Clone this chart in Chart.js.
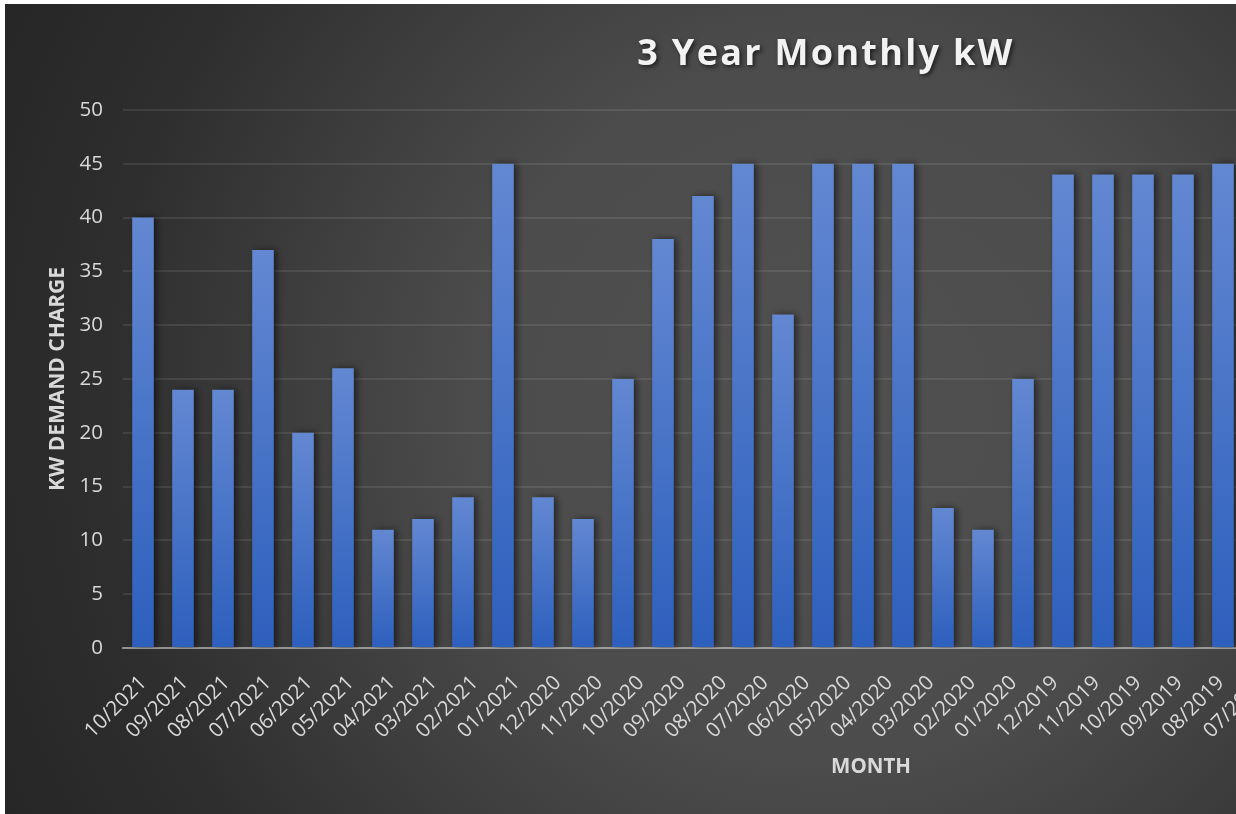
<!DOCTYPE html>
<html>
<head>
<meta charset="utf-8">
<script src="https://cdn.jsdelivr.net/npm/chart.js@4/dist/chart.umd.min.js"></script>
<style>
  html, body { margin: 0; padding: 0; background: #ffffff; overflow: hidden; width: 1236px; height: 814px; }
  #wrap { position: absolute; left: 5px; top: 4px; width: 1250px; height: 810px; }
</style>
</head>
<body>
<div id="wrap"><canvas id="c"></canvas></div>
<script>
const months = ["10/2021","09/2021","08/2021","07/2021","06/2021","05/2021","04/2021","03/2021","02/2021","01/2021",
  "12/2020","11/2020","10/2020","09/2020","08/2020","07/2020","06/2020","05/2020","04/2020","03/2020","02/2020","01/2020",
  "12/2019","11/2019","10/2019","09/2019","08/2019","07/2019"];
const kwValues = [40,24,24,37,20,26,11,12,14,45,14,12,25,38,42,45,31,45,45,45,13,11,25,44,44,44,44,45];
const yTicks = [0,5,10,15,20,25,30,35,40,45,50];
const chartTitle = "3 Year Monthly kW";
const xTitle = "MONTH";
const yTitle = "KW DEMAND CHARGE";

const bgPlugin = {
  id: 'bg',
  beforeDraw(chart) {
    const ctx = chart.ctx, w = chart.width, h = chart.height;
    const g = ctx.createRadialGradient(822, 405, 0, 822, 405, 920);
    g.addColorStop(0, '#505050');
    g.addColorStop(0.38, '#4c4c4c');
    g.addColorStop(0.59, '#3d3d3d');
    g.addColorStop(0.79, '#2e2e2e');
    g.addColorStop(1, '#262626');
    ctx.save();
    ctx.fillStyle = g;
    ctx.fillRect(0, 0, w, h);
    ctx.restore();
  }
};

const shadowPlugin = {
  id: 'barShadow',
  beforeDatasetsDraw(chart) {
    const ctx = chart.ctx;
    ctx.save();
    ctx.shadowColor = 'rgba(0,0,0,0.55)';
    ctx.shadowBlur = 7;
    ctx.shadowOffsetX = 3;
    ctx.shadowOffsetY = 0;
  },
  afterDatasetsDraw(chart) {
    chart.ctx.restore();
  }
};

const textPlugin = {
  id: 'texts',
  afterDraw(chart) {
    const ctx = chart.ctx;
    ctx.save();
    ctx.font = 'bold 36px "Open Sans"';
    try { ctx.letterSpacing = '2.3px'; } catch (e) {}
    ctx.textAlign = 'center';
    ctx.textBaseline = 'alphabetic';
    ctx.fillStyle = '#f2f2f2';
    ctx.shadowColor = 'rgba(0,0,0,0.6)';
    ctx.shadowBlur = 4;
    ctx.shadowOffsetX = 2;
    ctx.shadowOffsetY = 2;
    ctx.fillText(chartTitle, 821, 61);
    ctx.restore();

    ctx.save();
    ctx.font = 'bold 20.5px "Open Sans"';
    ctx.textAlign = 'center';
    ctx.textBaseline = 'middle';
    ctx.fillStyle = '#d9d9d9';
    ctx.fillText(xTitle, 866, 763);
    ctx.restore();
  }
};

new Chart(document.getElementById('c'), {
  type: 'bar',
  data: {
    labels: months,
    datasets: [{
      label: 'kW',
      data: kwValues,
      xAxisID: 'x',
      backgroundColor: (c) => {
        const chart = c.chart;
        if (!chart.chartArea || c.type !== 'data') return '#4472c4';
        const y = chart.scales.y;
        const top = y.getPixelForValue(c.raw), bot = y.getPixelForValue(0);
        const g = chart.ctx.createLinearGradient(0, top, 0, bot);
        g.addColorStop(0, '#6388d2');
        g.addColorStop(1, '#2d5fbd');
        return g;
      },
      borderWidth: 0,
      categoryPercentage: 1,
      barPercentage: 0.54
    }]
  },
  options: {
    responsive: true,
    maintainAspectRatio: false,
    animation: false,
    layout: { padding: { top: 106, right: 12, bottom: 0, left: 0 } },
    plugins: {
      legend: { display: false },
      title: { display: false },
      tooltip: { enabled: false }
    },
    scales: {
      x: {
        type: 'category',
        position: 'bottom',
        z: 1,
        weight: 0,
        afterFit(s) { s.height = 0; s.paddingLeft = 0; s.paddingRight = 0; },
        grid: { display: false, drawTicks: false },
        border: { display: true, color: 'rgba(200,200,200,0.6)', width: 2 },
        ticks: { display: false }
      },
      xl: {
        type: 'linear',
        position: 'bottom',
        offset: false,
        weight: 1,
        min: -0.4947,
        max: 26.532,
        afterBuildTicks(s) { s.ticks = months.map((m, i) => ({ value: i })); },
        afterFit(s) { s.height = 166; s.paddingLeft = 0; s.paddingRight = 0; },
        grid: { display: false, drawTicks: false, offset: false },
        border: { display: false },
        ticks: {
          autoSkip: false, maxRotation: 45, minRotation: 45, padding: 23,
          color: '#d9d9d9', font: { family: 'Open Sans', size: 20.5 },
          callback: (v) => months[v]
        }
      },
      y: {
        min: 0, max: 50,
        afterFit(s) { s.width = 118; s.paddingTop = 0; s.paddingBottom = 0; },
        afterBuildTicks(s) { s.ticks = yTicks.map(v => ({ value: v })); },
        grid: { color: 'rgba(255,255,255,0.09)', lineWidth: 2, drawTicks: false },
        border: { display: false },
        ticks: {
          padding: 20, color: '#d9d9d9', font: { family: 'Open Sans', size: 20.5 }
        },
        title: {
          display: true, text: yTitle, color: '#d9d9d9',
          font: { family: 'Open Sans', size: 21, weight: 'bold' },
          padding: { top: 40, bottom: 0 }
        }
      }
    }
  },
  plugins: [bgPlugin, shadowPlugin, textPlugin]
});
</script>
</body>
</html>
